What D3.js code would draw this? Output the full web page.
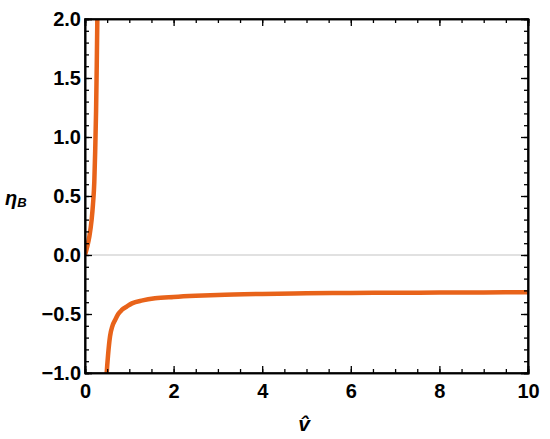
<!DOCTYPE html>
<html>
<head>
<meta charset="utf-8">
<script src="https://cdn.jsdelivr.net/npm/d3@7"></script>
<style>
body { margin: 0; background: #fff; }
text { font-family: "Liberation Sans", Arial, sans-serif; }
</style>
</head>
<body>
<svg id="chart" width="550" height="439"></svg>
<script>
// values
var xMajorTicks = [0, 2, 4, 6, 8, 10];
var yMajorTicks = [-1.0, -0.5, 0.0, 0.5, 1.0, 1.5, 2.0];

// branch left of the pole
var branchLeftX = [0, 0.05, 0.1, 0.15, 0.18, 0.21, 0.23, 0.25, 0.265, 0.28, 0.29];
var branchLeftY = [0, 0.07, 0.16, 0.3, 0.43, 0.62, 0.88, 1.22, 1.6, 2.05, 2.4];

// branch right of the pole
var branchRightX = [0.475, 0.49, 0.52, 0.565, 0.62, 0.68, 0.75, 0.83, 0.95, 1.06, 1.3, 1.58, 2.0, 2.5, 3, 4, 5, 6, 7, 8, 9, 10];
var branchRightY = [-1.1, -1.0, -0.85, -0.69, -0.6, -0.55, -0.5, -0.466, -0.435, -0.41, -0.385, -0.367, -0.355, -0.345, -0.338, -0.33, -0.325, -0.322, -0.32, -0.318, -0.317, -0.316];

var plotLeft = 85, plotTop = 19, plotRight = 528, plotBottom = 373;

var svg = d3.select('#chart');

var x = d3.scaleLinear().domain([0, 10]).range([plotLeft, plotRight]);
var y = d3.scaleLinear().domain([-1, 2]).range([plotBottom, plotTop]);

svg.append('defs').append('clipPath').attr('id', 'plotClip')
  .append('rect')
  .attr('x', plotLeft).attr('y', plotTop)
  .attr('width', plotRight - plotLeft).attr('height', plotBottom - plotTop);

// zero line
svg.append('line')
  .attr('x1', x(0)).attr('x2', x(10))
  .attr('y1', y(0)).attr('y2', y(0))
  .style('stroke', '#c4c4c4')
  .style('stroke-width', 1.2);

var line = d3.line()
  .x(function(d) { return x(d[0]); })
  .y(function(d) { return y(d[1]); })
  .curve(d3.curveMonotoneX);

var plot = svg.append('g').attr('clip-path', 'url(#plotClip)');

plot.append('path')
  .datum(d3.zip(branchLeftX, branchLeftY))
  .attr('d', line)
  .style('fill', 'none')
  .style('stroke', '#e8631a')
  .style('stroke-width', 4.5);

plot.append('path')
  .datum(d3.zip(branchRightX, branchRightY))
  .attr('d', line)
  .style('fill', 'none')
  .style('stroke', '#e8631a')
  .style('stroke-width', 4.5);

// frame with inward ticks on all sides
var xMinor = d3.range(0, 10.001, 0.5);
var yMinor = d3.range(-1, 2.001, 0.1);

var bottomAxis = d3.axisBottom(x).tickValues(xMajorTicks).tickSize(-7).tickPadding(11)
  .tickFormat(d3.format('d'));
var topAxis = d3.axisTop(x).tickValues(xMajorTicks).tickSize(-7).tickFormat('');
var leftAxis = d3.axisLeft(y).tickValues(yMajorTicks).tickSize(-7).tickPadding(4)
  .tickFormat(function(d) { return d < 0 ? '\u2212' + d3.format('.1f')(-d) : d3.format('.1f')(d); });
var rightAxis = d3.axisRight(y).tickValues(yMajorTicks).tickSize(-7).tickFormat('');

function minor(axis, vals) { return axis.tickValues(vals).tickSize(-4).tickFormat(''); }

svg.append('g').attr('transform', 'translate(0,' + plotBottom + ')').call(minor(d3.axisBottom(x), xMinor));
svg.append('g').attr('transform', 'translate(0,' + plotTop + ')').call(minor(d3.axisTop(x), xMinor));
svg.append('g').attr('transform', 'translate(' + plotLeft + ',0)').call(minor(d3.axisLeft(y), yMinor));
svg.append('g').attr('transform', 'translate(' + plotRight + ',0)').call(minor(d3.axisRight(y), yMinor));

svg.append('g').attr('transform', 'translate(0,' + plotBottom + ')').call(bottomAxis);
svg.append('g').attr('transform', 'translate(0,' + plotTop + ')').call(topAxis);
svg.append('g').attr('transform', 'translate(' + plotLeft + ',0)').call(leftAxis);
svg.append('g').attr('transform', 'translate(' + plotRight + ',0)').call(rightAxis);

svg.selectAll('.domain').style('stroke', '#000').style('stroke-width', 1.6);
svg.selectAll('.tick line').style('stroke', '#000').style('stroke-width', 1.3);
svg.selectAll('.tick text')
  .style('font-size', '20px')
  .style('font-weight', 'bold')
  .style('fill', '#000');

svg.append('rect')
  .attr('x', plotLeft).attr('y', plotTop)
  .attr('width', plotRight - plotLeft).attr('height', plotBottom - plotTop)
  .style('fill', 'none').style('stroke', '#000').style('stroke-width', 1.6);

// axis labels
var yLab = svg.append('text')
  .attr('x', 5).attr('y', 205)
  .style('font-size', '20px')
  .style('font-weight', 'bold')
  .style('font-style', 'italic');
yLab.append('tspan').text('\u03b7');
yLab.append('tspan').attr('dy', 2).style('font-size', '13px').text('B');

svg.append('text')
  .attr('x', 304).attr('y', 431)
  .attr('text-anchor', 'middle')
  .style('font-size', '21px')
  .style('font-weight', 'bold')
  .style('font-style', 'italic')
  .text('v\u0302');
</script>
</body>
</html>
